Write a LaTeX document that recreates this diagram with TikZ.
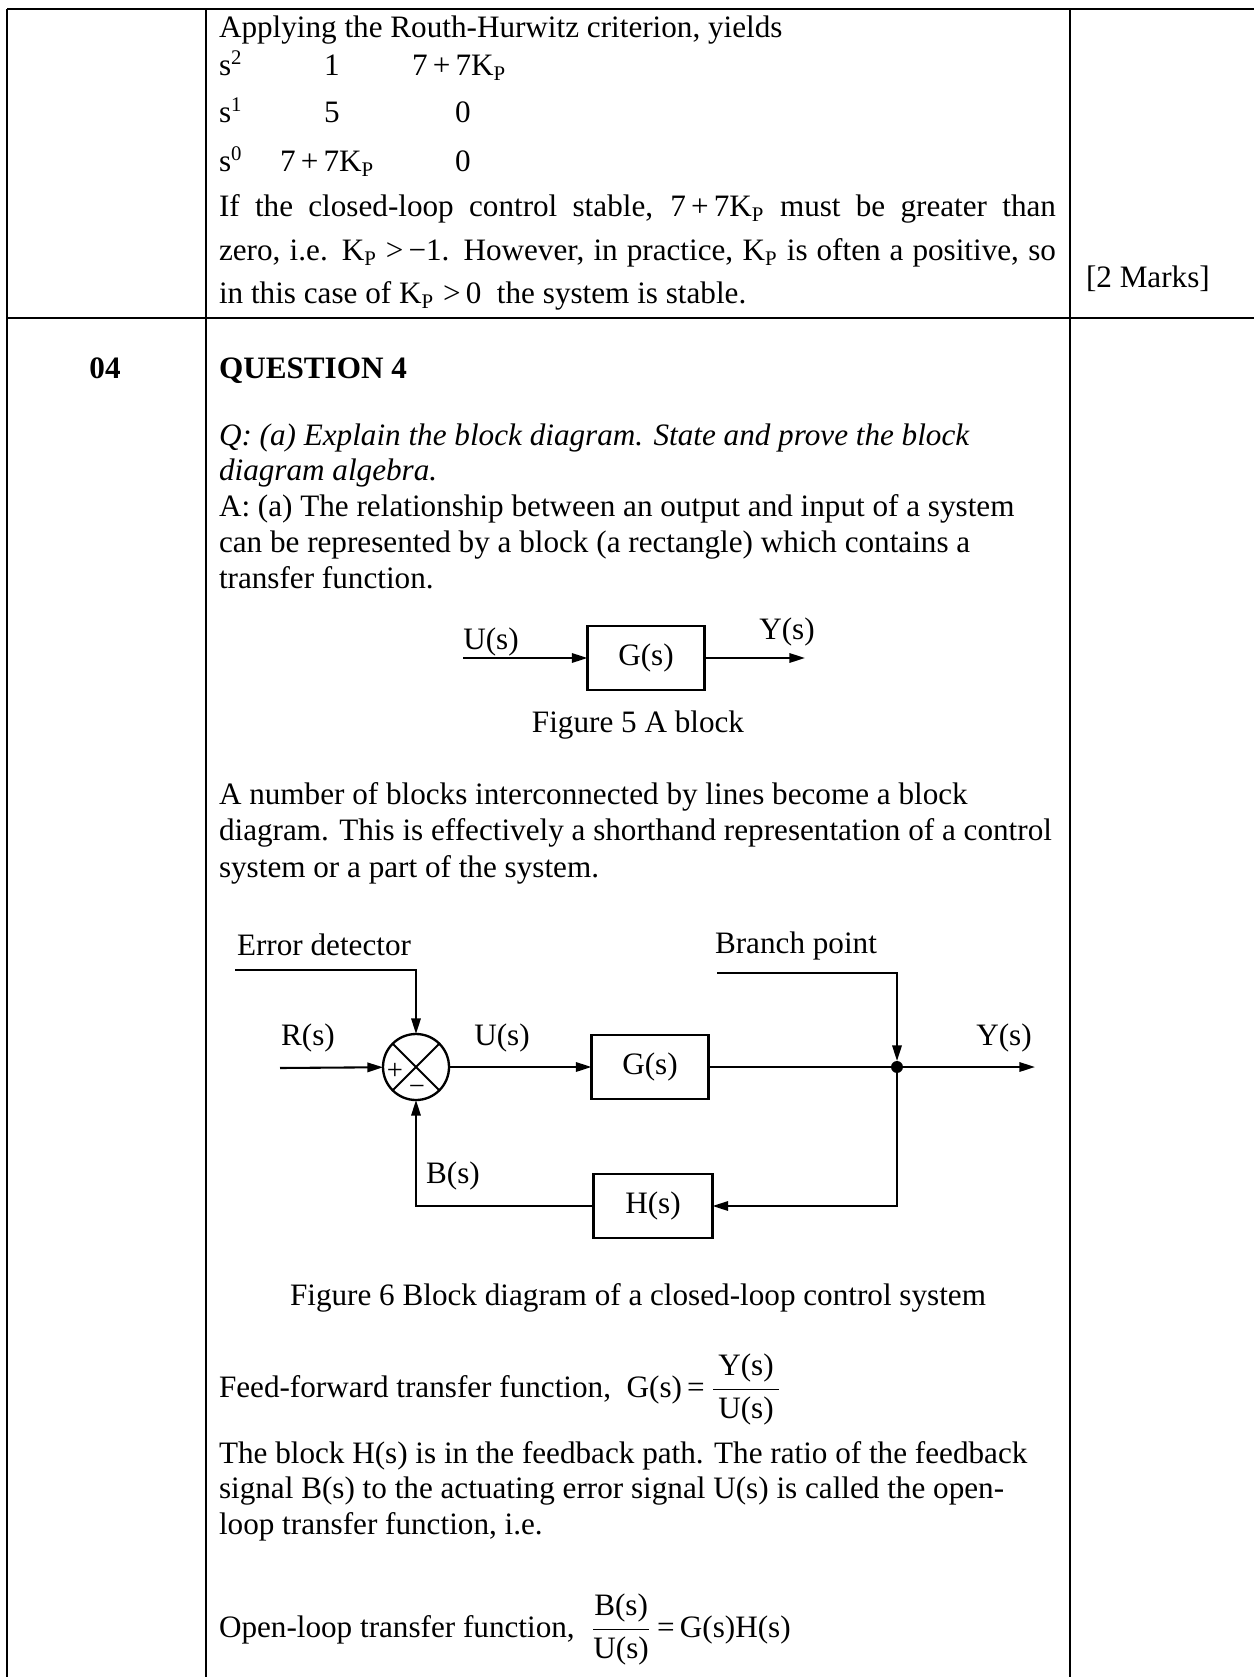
\documentclass[tikz,border=0pt]{standalone}
\usepackage{fontspec}
\setmainfont{Liberation Serif}
\usetikzlibrary{arrows.meta}
\newlength\pxu
\setlength\pxu{0.385pt}
\begin{document}
\begin{tikzpicture}[x=0.385pt,y=-0.385pt,
  every node/.style={font=\fontsize{12pt}{14pt}\selectfont, inner sep=0pt, outer sep=0pt},
  txt/.style={anchor=base west},
  ctxt/.style={anchor=base},
  grid/.style={line width=0.85pt},
  blk/.style={draw, line width=0.9pt, minimum width=117\pxu, minimum height=64\pxu},
  arr/.style={line width=0.8pt, -{Triangle[length=6pt,width=3.6pt]}},
  ln/.style={line width=0.8pt}]
\useasboundingbox (0,0) rectangle (1254,1677);
% table grid
\draw[grid] (7,9) -- (1254,9);
\draw[grid] (7,318) -- (1254,318);
\draw[grid] (7,9) -- (7,1677);
\draw[grid] (206,9) -- (206,1677);
\draw[grid] (1070,9) -- (1070,1677);
% row 1
\node[txt] (t1) at (219,38) {Applying the Routh-Hurwitz criterion, yields};
\node[txt] (r2a) at (219,76) {s\textsuperscript{2}};
\node[ctxt] (r2b) at (332,76) {1};
\node[txt] (r2c) at (412,76) {7\,+\,7K\textsubscript{P}};
\node[txt] (r1a) at (219,123) {s\textsuperscript{1}};
\node[ctxt] (r1b) at (332,123) {5};
\node[ctxt] (r1c) at (463,123) {0};
\node[txt] (r0a) at (219,172) {s\textsuperscript{0}};
\node[txt] (r0b) at (280,172) {7\,+\,7K\textsubscript{P}};
\node[ctxt] (r0c) at (463,172) {0};
\node[txt] (t2) at (219,217) {\makebox[837\pxu][s]{If the closed-loop control stable, 7\,+\,7K\textsubscript{P} must be greater than}};
\node[txt] (t3) at (219,261) {\makebox[837\pxu][s]{zero, i.e. K\textsubscript{P}\;>\,−1. However, in practice, K\textsubscript{P} is often a positive, so}};
\node[txt] (t4) at (219,304) {in this case of K\textsubscript{P}\;>\,0 \ the system is stable.};
\node[txt] (marks) at (1086,288) {[2 Marks]};
% row 2
\node[ctxt] (qn) at (105,379) {\bfseries 04};
\node[txt] (qh) at (219,379) {\bfseries QUESTION 4};
\node[txt] (q1) at (219,446) {\itshape Q: (a) Explain the block diagram. State and prove the block};
\node[txt] (q2) at (219,481) {\itshape diagram algebra.};
\node[txt] (a1) at (219,517) {A: (a) The relationship between an output and input of a system};
\node[txt] (a2) at (219,553) {can be represented by a block (a rectangle) which contains a};
\node[txt] (a3) at (219,588) {transfer function.};
% figure 5
\node[blk] (g5) at (646,658) {G(s)};
\coordinate (u5) at (463,658);
\coordinate (y5) at (805,658);
\draw[arr] (u5) -- (g5);
\draw[arr] (g5) -- (y5);
\node[ctxt] (u5l) at (491,649) {U(s)};
\node[ctxt] (y5l) at (787,639) {Y(s)};
\node[ctxt] (cap5) at (638,732) {Figure 5 A block};
% paragraph
\node[txt] (p1) at (219,804) {A number of blocks interconnected by lines become a block};
\node[txt] (p2) at (219,840) {diagram. This is effectively a shorthand representation of a control};
\node[txt] (p3) at (219,877) {system or a part of the system.};
% figure 6
\node[draw, circle, line width=0.9pt, minimum size=66\pxu] (sum) at (416,1067) {};
\draw[ln] (sum.135) -- (sum.-45) (sum.45) -- (sum.-135);
\node[font=\fontsize{11pt}{13pt}\selectfont] (plus) at (395,1071) {+};
\node[font=\fontsize{11pt}{13pt}\selectfont] (minus) at (417,1090) {−};
\node[blk] (g6) at (650,1067) {G(s)};
\node[blk, minimum width=119\pxu] (h6) at (653,1206) {H(s)};
\node[circle, fill, minimum size=4.6pt] (dot) at (897,1067) {};
\coordinate (rin) at (280,1068);
\coordinate (yout) at (1035,1067);
\coordinate (errs) at (235,970);
\coordinate (brs) at (717,973);
\draw[arr] (rin) -- (sum);
\draw[arr] (sum) -- (g6);
\draw[arr] (g6) -- (yout);
\draw[arr] (errs) -| (sum.north);
\draw[arr] (brs) -| (dot.north);
\draw[arr] (dot.center) |- (h6.east);
\draw[arr] (h6.west) -| (sum.south);
\node[ctxt] (rl) at (308,1045) {R(s)};
\node[ctxt] (ul) at (502,1045) {U(s)};
\node[ctxt] (yl) at (1004,1045) {Y(s)};
\node[ctxt] (bl) at (453,1183) {B(s)};
\node[ctxt] (el) at (324,955) {Error detector};
\node[ctxt] (bpl) at (796,953) {Branch point};
\node[ctxt] (cap6) at (638,1305) {Figure 6 Block diagram of a closed-loop control system};
% equations
\node[txt] (ff) at (219,1397) {Feed-forward transfer function, \ G(s)\,=\,$\displaystyle\frac{\mbox{\,Y(s)\,}}{\mbox{\,U(s)\,}}$};
\node[txt] (b1) at (219,1463) {The block H(s) is in the feedback path. The ratio of the feedback};
\node[txt] (b2) at (219,1498) {signal B(s) to the actuating error signal U(s) is called the open-};
\node[txt] (b3) at (219,1534) {loop transfer function, i.e.};
\node[txt] (ol) at (219,1637) {Open-loop transfer function, \ $\displaystyle\frac{\mbox{B(s)}}{\mbox{U(s)}}$\,=\,G(s)H(s)};
\end{tikzpicture}
\end{document}
